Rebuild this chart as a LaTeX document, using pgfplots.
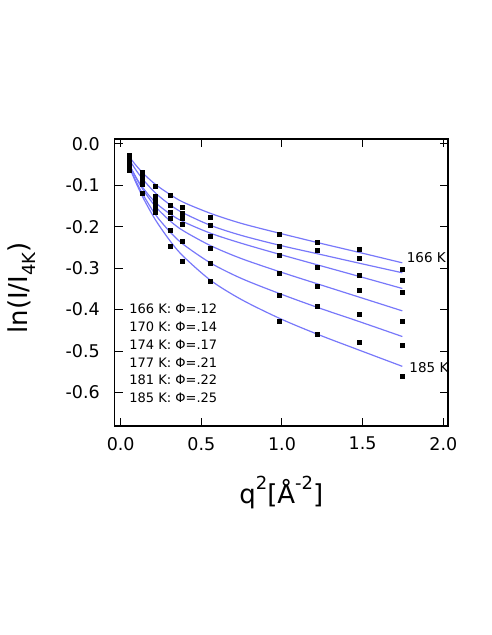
\documentclass[border=0pt]{standalone}
\usepackage{fontspec}
\setmainfont{DejaVu Sans}
\usepackage{pgfplots}
\usepackage{pgfplotstable}
\pgfplotsset{compat=1.18}
\definecolor{fitblue}{RGB}{120,120,250}

% measured points, one column per temperature (166,170,174,177,181,185 K)
\pgfplotstableread{
x     p1     p2     p3     p4     p5     p6
0.055 -0.028 -0.035 -0.042 -0.048 -0.055 -0.063
0.132 -0.068 -0.072 -0.085 -0.092 -0.096 -0.118
0.216 -0.101 -0.125 -0.136 -0.146 -0.152 -0.164
0.309 -0.123 -0.147 -0.164 -0.179 -0.209 -0.246
0.380 -0.153 -0.168 -0.180 -0.193 -0.234 -0.284
0.558 -0.177 -0.197 -0.222 -0.251 -0.288 -0.332
0.984 -0.217 -0.246 -0.269 -0.311 -0.364 -0.427
1.221 -0.237 -0.257 -0.298 -0.344 -0.391 -0.460
1.477 -0.254 -0.275 -0.317 -0.353 -0.412 -0.478
1.746 -0.303 -0.329 -0.357 -0.427 -0.485 -0.561
}\pts

% fit curves
\pgfplotstableread{
x     c1     c2     c3     c4     c5     c6
0.055 -0.032 -0.039 -0.051 -0.051 -0.056 -0.057
0.10  -0.054 -0.066 -0.084 -0.085 -0.094 -0.098
0.15  -0.075 -0.091 -0.112 -0.117 -0.130 -0.138
0.22  -0.099 -0.120 -0.143 -0.153 -0.173 -0.186
0.31  -0.123 -0.148 -0.170 -0.187 -0.214 -0.236
0.39  -0.141 -0.167 -0.188 -0.210 -0.243 -0.272
0.56  -0.168 -0.197 -0.216 -0.246 -0.288 -0.330
0.75  -0.192 -0.221 -0.240 -0.277 -0.325 -0.376
0.99  -0.216 -0.245 -0.267 -0.309 -0.362 -0.422
1.23  -0.239 -0.266 -0.293 -0.339 -0.396 -0.461
1.48  -0.262 -0.288 -0.320 -0.370 -0.429 -0.498
1.746 -0.287 -0.311 -0.349 -0.403 -0.465 -0.537
}\fits

\newcommand{\lab}{\fontsize{26}{30}\selectfont}
\newcommand{\scr}{\fontsize{18}{20}\selectfont}

\begin{document}
\begin{tikzpicture}
\useasboundingbox (-114.7pt,-209pt) rectangle (376.3pt,426pt);
\begin{axis}[
  at={(0,0)}, anchor=south west, scale only axis,
  width=333.3pt, height=287pt,
  xmin=-0.037, xmax=2.029, ymin=-0.681, ymax=0.012,
  xtick={0,0.5,1,1.5,2},
  ytick={-0.6,-0.5,-0.4,-0.3,-0.2,-0.1,0},
  tick align=inside, major tick length=8pt,
  axis line style={line width=1.4pt},
  tick style={line width=1pt, black},
  tick label style={font=\fontsize{17.5}{20}\selectfont, inner sep=0pt},
  xticklabel style={anchor=north, yshift=-11pt},
  yticklabel style={anchor=east, xshift=-14.7pt},
  /pgf/number format/.cd, fixed, fixed zerofill, precision=1, assume math mode=true,
  /pgfplots/.cd,
  xlabel={q\raisebox{0.55em}{\scr 2}[Å\raisebox{0.55em}{\scr -2}]},
  ylabel={ln(I/I\raisebox{-0.3em}{\scr 4K})},
  xlabel style={at={(axis description cs:0.5,-0.233)}, anchor=center, font=\lab},
  ylabel style={at={(axis description cs:-0.279,0.481)}, anchor=center, font=\lab},
  fit/.style={fitblue, line width=1.2pt, smooth, no markers},
  dots/.style={only marks, mark=square*, mark size=2pt, black},
]
\addplot[fit] table[x=x, y=c1] {\fits};
\addplot[fit] table[x=x, y=c2] {\fits};
\addplot[fit] table[x=x, y=c3] {\fits};
\addplot[fit] table[x=x, y=c4] {\fits};
\addplot[fit] table[x=x, y=c5] {\fits};
\addplot[fit] table[x=x, y=c6] {\fits};

\addplot[dots] table[x=x, y=p1] {\pts};
\addplot[dots] table[x=x, y=p2] {\pts};
\addplot[dots] table[x=x, y=p3] {\pts};
\addplot[dots] table[x=x, y=p4] {\pts};
\addplot[dots] table[x=x, y=p5] {\pts};
\addplot[dots] table[x=x, y=p6] {\pts};

\node[anchor=west, inner sep=0pt, font=\fontsize{13.5}{15}\selectfont] at (axis cs:1.773,-0.275) {166 K};
\node[anchor=west, inner sep=0pt, font=\fontsize{13.5}{15}\selectfont] at (axis cs:1.789,-0.540) {185 K};

\node[anchor=west, inner sep=0pt, font=\fontsize{13}{15}\selectfont] at (axis cs:0.053,-0.399) {166 K: Φ=.12};
\node[anchor=west, inner sep=0pt, font=\fontsize{13}{15}\selectfont] at (axis cs:0.053,-0.441) {170 K: Φ=.14};
\node[anchor=west, inner sep=0pt, font=\fontsize{13}{15}\selectfont] at (axis cs:0.053,-0.484) {174 K: Φ=.17};
\node[anchor=west, inner sep=0pt, font=\fontsize{13}{15}\selectfont] at (axis cs:0.053,-0.527) {177 K: Φ=.21};
\node[anchor=west, inner sep=0pt, font=\fontsize{13}{15}\selectfont] at (axis cs:0.053,-0.569) {181 K: Φ=.22};
\node[anchor=west, inner sep=0pt, font=\fontsize{13}{15}\selectfont] at (axis cs:0.053,-0.612) {185 K: Φ=.25};
\end{axis}
\end{tikzpicture}
\end{document}
